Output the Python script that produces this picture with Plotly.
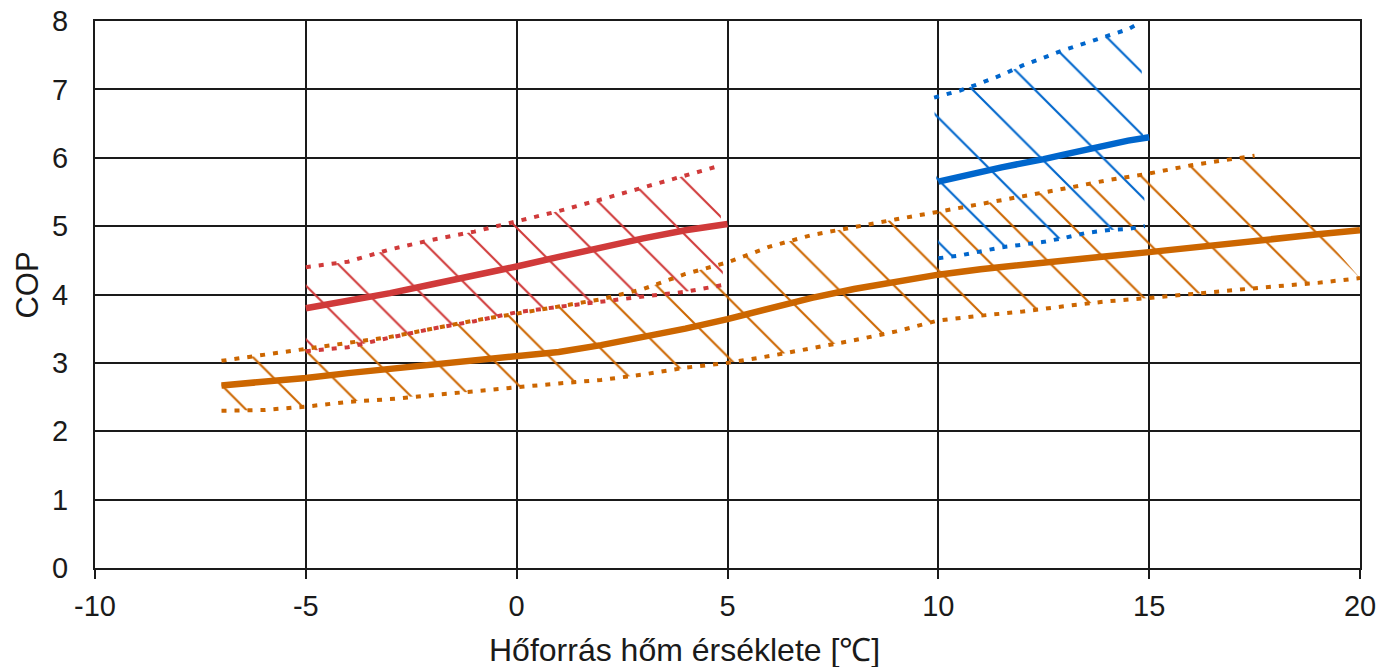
import plotly.graph_objects as go

# ---------------- data ----------------
x_ticks = [-10, -5, 0, 5, 10, 15, 20]
y_ticks = [0, 1, 2, 3, 4, 5, 6, 7, 8]

# red band
red_mid_x = [-5, -4, -3, -2, -1, 0, 1, 2, 3, 4, 5]
red_mid_y = [3.80, 3.90, 4.02, 4.15, 4.27, 4.41, 4.55, 4.69, 4.82, 4.94, 5.03]
red_up_x = [-5, -4, -3, -2, -1, 0, 1, 2, 3, 4, 4.8]
red_up_y = [4.40, 4.48, 4.66, 4.80, 4.92, 5.07, 5.22, 5.39, 5.57, 5.74, 5.88]
red_lo_x = [-5, -4, -3, -2, -1, 0, 1, 2, 3, 4, 4.9]
red_lo_y = [3.17, 3.23, 3.37, 3.50, 3.61, 3.74, 3.82, 3.90, 3.97, 4.04, 4.14]

# orange band
orange_mid_x = [-7, -6, -5, -4, -3, -2, -1, 0, 1, 2, 3, 4, 5, 6, 7, 8, 9, 10,
                11, 12, 13, 14, 15, 16, 17, 18, 19, 20]
orange_mid_y = [2.67, 2.72, 2.78, 2.85, 2.91, 2.98, 3.04, 3.09, 3.16, 3.26, 3.37,
                3.50, 3.64, 3.80, 3.95, 4.08, 4.19, 4.29, 4.37, 4.44, 4.50, 4.56,
                4.62, 4.69, 4.76, 4.82, 4.88, 4.94]
orange_up_x = [-7, -6, -5, -4, -3, -2, -1, 0, 1, 2, 3, 4, 5, 6, 7, 8, 9, 10,
               11, 12, 13, 14, 15, 16, 17, 17.5]
orange_up_y = [3.03, 3.12, 3.21, 3.30, 3.38, 3.50, 3.62, 3.72, 3.82, 3.93, 4.08,
               4.30, 4.47, 4.70, 4.87, 4.99, 5.10, 5.21, 5.32, 5.43, 5.55, 5.67,
               5.77, 5.89, 5.99, 6.03]
orange_lo_x = [-7, -6, -5, -4, -3, -2, -1, 0, 1, 2, 3, 4, 5, 6, 7, 8, 9, 10,
               11, 12, 13, 14, 15, 16, 17, 18, 19, 20]
orange_lo_y = [2.30, 2.31, 2.36, 2.43, 2.47, 2.53, 2.58, 2.64, 2.70, 2.75, 2.83,
               2.93, 3.00, 3.10, 3.21, 3.33, 3.46, 3.62, 3.69, 3.75, 3.83, 3.90,
               3.95, 4.01, 4.06, 4.12, 4.17, 4.24]

# blue band
blue_mid_x = [10, 10.5, 11, 11.5, 12, 12.5, 13, 13.5, 14, 14.5, 15]
blue_mid_y = [5.65, 5.73, 5.79, 5.86, 5.91, 5.98, 6.05, 6.12, 6.18, 6.25, 6.30]
blue_up_x = [9.9, 10.5, 11, 11.5, 12, 12.5, 13, 13.5, 14, 14.5, 14.8]
blue_up_y = [6.88, 6.98, 7.09, 7.21, 7.35, 7.47, 7.58, 7.68, 7.78, 7.88, 7.98]
blue_lo_x = [10, 10.5, 11, 11.5, 12, 12.5, 13, 13.5, 14, 14.5, 14.9]
blue_lo_y = [4.53, 4.57, 4.63, 4.69, 4.73, 4.77, 4.83, 4.90, 4.94, 4.96, 5.00]

x_title = "Hőforrás hőm érséklete [℃]"
y_title = "COP"

RED = "#D03A3A"
ORANGE = "#CC6600"
BLUE = "#0066CC"
INK = "#1a1a1a"
FONT = "Liberation Sans, Arial, sans-serif"

# (mid, upper, lower, colour, hatch spacing, hatch solidity)
bands = [
    (red_mid_x, red_mid_y, red_up_x, red_up_y, red_lo_x, red_lo_y, RED, 38, 0.055),
    (orange_mid_x, orange_mid_y, orange_up_x, orange_up_y, orange_lo_x, orange_lo_y, ORANGE, 42, 0.05),
    (blue_mid_x, blue_mid_y, blue_up_x, blue_up_y, blue_lo_x, blue_lo_y, BLUE, 44, 0.048),
]

fig = go.Figure()

# hatched areas
for mx, my, ux, uy, lx, ly, col, psize, psol in bands:
    fig.add_trace(go.Scatter(
        x=list(ux) + list(lx)[::-1],
        y=list(uy) + list(ly)[::-1],
        mode="lines", fill="toself",
        line=dict(width=0, color=col),
        fillcolor="rgba(0,0,0,0)",
        fillpattern=dict(shape="\\", fgcolor=col, bgcolor="rgba(0,0,0,0)",
                         fgopacity=1, size=psize, solidity=psol),
        hoverinfo="skip", showlegend=False,
    ))

# boundaries and centre lines
for mx, my, ux, uy, lx, ly, col, psize, psol in bands:
    for bx, by in ((ux, uy), (lx, ly)):
        fig.add_trace(go.Scatter(
            x=bx, y=by, mode="lines",
            line=dict(color=col, width=4, dash="5px,8px"),
            showlegend=False, hoverinfo="skip",
        ))
    fig.add_trace(go.Scatter(
        x=mx, y=my, mode="lines",
        line=dict(color=col, width=6.5),
        showlegend=False, hoverinfo="skip",
    ))

fig.update_layout(
    width=1377, height=667,
    margin=dict(l=95, r=17, t=21, b=99, autoexpand=False),
    paper_bgcolor="white", plot_bgcolor="white",
    font=dict(family=FONT, size=29, color=INK),
    showlegend=False,
)
fig.update_xaxes(
    range=[-10, 20], tickvals=x_ticks, ticktext=[str(v) for v in x_ticks],
    showgrid=True, gridcolor=INK, gridwidth=2,
    showline=True, linecolor=INK, linewidth=2, mirror=True,
    ticks="outside", ticklen=9, tickwidth=2, tickcolor=INK,
    ticklabelstandoff=2, zeroline=False, automargin=False,
    tickfont=dict(family=FONT, size=29, color=INK),
)
fig.update_yaxes(
    range=[0, 8], tickvals=y_ticks, ticktext=[str(v) for v in y_ticks],
    showgrid=True, gridcolor=INK, gridwidth=2,
    showline=True, linecolor=INK, linewidth=2, mirror=True,
    ticks="", ticklabelstandoff=19, zeroline=False, automargin=False,
    tickfont=dict(family=FONT, size=29, color=INK),
)
fig.add_annotation(
    text=x_title, xref="paper", yref="paper", x=0.466, y=-0.15,
    xanchor="center", yanchor="middle", showarrow=False,
    font=dict(family=FONT, size=32, color=INK),
)
fig.add_annotation(
    text=y_title, xref="paper", yref="paper", x=-0.053, y=0.518,
    xanchor="center", yanchor="middle", textangle=-90, showarrow=False,
    font=dict(family=FONT, size=31, color=INK),
)

fig.write_html(
    "out.html",
    config={"displayModeBar": False},
    post_script="document.body.style.margin='0';document.body.style.overflow='hidden';",
)
